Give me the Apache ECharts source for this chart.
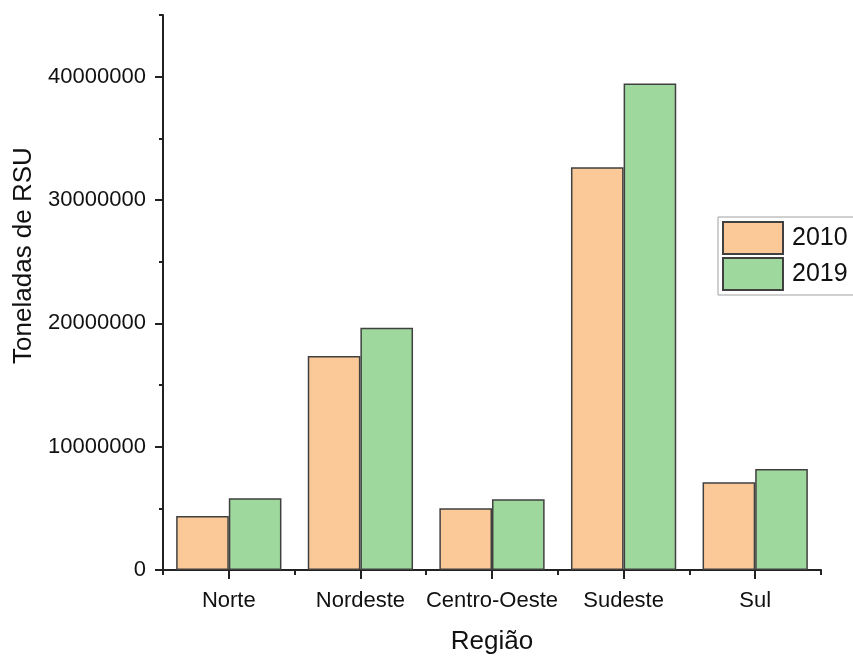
<!DOCTYPE html>
<html>
<head>
<meta charset="utf-8">
<script src="https://cdn.jsdelivr.net/npm/echarts@6/dist/echarts.min.js"></script>
<style>
  html, body { margin: 0; padding: 0; background: #fff; }
  #chart { width: 853px; height: 657px; }
</style>
</head>
<body>
<div id="chart"></div>
<script>
// Resíduos sólidos urbanos (toneladas) por região, 2010 e 2019
const regioes = ['Norte', 'Nordeste', 'Centro-Oeste', 'Sudeste', 'Sul'];
const valores2010 = [4380000, 17360000, 5000000, 32660000, 7110000];
const valores2019 = [5810000, 19650000, 5730000, 39440000, 8190000];
const anos = ['2010', '2019'];
const ticksPrincipais = [0, 10000000, 20000000, 30000000, 40000000];

const FONT = '"Liberation Sans", Arial, sans-serif';
const INK = '#111';
const AXIS = '#222';

const chart = echarts.init(document.getElementById('chart'), null, { renderer: 'canvas' });

const barStyle = (color) => ({
  color: color,
  borderColor: '#404040',
  borderWidth: 1.5
});

chart.setOption({
  animation: false,
  backgroundColor: '#fff',
  textStyle: { fontFamily: FONT, color: INK },
  grid: {
    left: 163, right: 32, top: 15, bottom: 87,
    containLabel: false,
    outerBoundsMode: 'none'
  },
  legend: {
    orient: 'vertical',
    left: 718,
    top: 217,
    padding: [4, 6, 4, 4],
    itemGap: 2,
    itemWidth: 60,
    itemHeight: 32,
    borderColor: '#a0a0a0',
    borderWidth: 1,
    icon: 'rect',
    data: anos,
    textStyle: { fontSize: 25, color: INK, fontFamily: FONT, padding: [0, 0, 0, 4] }
  },
  xAxis: [
    {
      type: 'category',
      data: regioes,
      position: 'bottom',
      name: 'Região',
      nameLocation: 'middle',
      nameGap: 59,
      nameTextStyle: { fontSize: 26, color: INK, fontFamily: FONT },
      axisLine: { show: true, lineStyle: { color: AXIS, width: 2 } },
      axisTick: { show: true, inside: false, alignWithLabel: true, interval: 0, length: 9,
                  lineStyle: { color: AXIS, width: 2 } },
      axisLabel: { interval: 0, fontSize: 22, color: INK, margin: 20, fontFamily: FONT },
      splitLine: { show: false }
    },
    {
      type: 'category',
      data: regioes,
      position: 'bottom',
      axisLine: { show: false },
      axisTick: { show: true, inside: false, interval: 0, length: 5,
                  lineStyle: { color: AXIS, width: 2 } },
      axisLabel: { show: false, interval: 0 },
      splitLine: { show: false }
    }
  ],
  yAxis: [
    {
      type: 'value',
      position: 'left',
      min: 0,
      max: 45000000,
      interval: 5000000,
      name: 'Toneladas de RSU',
      nameLocation: 'middle',
      nameGap: 126,
      nameRotate: 90,
      nameTextStyle: { fontSize: 26, color: INK, fontFamily: FONT, padding: [0, 0, 0, 74] },
      axisLine: { show: true, lineStyle: { color: AXIS, width: 2 } },
      axisTick: { show: true, length: 8, customValues: ticksPrincipais, lineStyle: { color: AXIS, width: 2 } },
      axisLabel: { fontSize: 22, color: INK, margin: 17, fontFamily: FONT, customValues: ticksPrincipais,
                   formatter: (v) => String(v) },
      splitLine: { show: false }
    },
    {
      type: 'value',
      position: 'left',
      min: 0,
      max: 45000000,
      interval: 5000000,
      axisLine: { show: false },
      axisTick: { show: true, length: 4, lineStyle: { color: AXIS, width: 2 } },
      axisLabel: { show: false },
      splitLine: { show: false }
    }
  ],
  series: [
    {
      name: anos[0],
      type: 'bar',
      data: valores2010,
      barGap: '0%',
      barCategoryGap: '20%',
      itemStyle: barStyle('#FBC997')
    },
    {
      name: anos[1],
      type: 'bar',
      data: valores2019,
      barGap: '0%',
      barCategoryGap: '20%',
      itemStyle: barStyle('#9ED89C')
    }
  ]
});
</script>
</body>
</html>
